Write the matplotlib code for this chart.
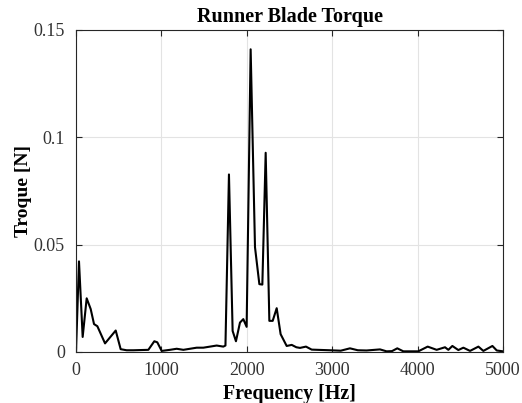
import matplotlib.pyplot as plt
import numpy as np

plt.rcParams['font.family'] = ['Liberation Serif', 'DejaVu Serif']
plt.rcParams['font.size'] = 13

# frequency [Hz] and torque amplitude
freq = [0, 35, 78, 125, 172, 211, 250, 340, 465, 523, 593, 672, 847, 917, 952,
        1003, 1100, 1179, 1257, 1335, 1413, 1491, 1569, 1647, 1725, 1750, 1791,
        1834, 1873, 1920, 1959, 1998, 2045, 2096, 2147, 2182, 2221, 2264, 2303,
        2350, 2396, 2467, 2526, 2580, 2623, 2693, 2760, 2974, 3100, 3208, 3300,
        3403, 3560, 3637, 3700, 3762, 3833, 4008, 4118, 4223, 4321, 4360, 4407,
        4477, 4536, 4614, 4712, 4770, 4876, 4927, 5000]
torque = [0.0, 0.0422, 0.007, 0.025, 0.020, 0.013, 0.012, 0.004, 0.010, 0.0013,
          0.0008, 0.0008, 0.001, 0.005, 0.0045, 0.0005, 0.001, 0.0015, 0.001,
          0.0015, 0.002, 0.002, 0.0025, 0.003, 0.0025, 0.003, 0.0827, 0.0098,
          0.005, 0.0137, 0.0153, 0.0117, 0.141, 0.0488, 0.0316, 0.0314, 0.0928,
          0.0145, 0.0145, 0.0204, 0.0083, 0.0028, 0.0033, 0.0022, 0.0019,
          0.0025, 0.0011, 0.0008, 0.0006, 0.0017, 0.0008, 0.0007, 0.0012,
          0.0003, 0.0004, 0.0017, 0.0003, 0.0003, 0.0025, 0.001, 0.0022, 0.001,
          0.0028, 0.0009, 0.002, 0.0005, 0.0025, 0.0005, 0.0028, 0.0007, 0.0003]

fig = plt.figure(figsize=(5.22, 4.03), dpi=100)
ax = fig.add_axes([0.1456, 0.1266, 0.818, 0.799])

ax.plot(freq, torque, 'k-', linewidth=1.5)
ax.set_xlim(0, 5000)
ax.set_ylim(0, 0.15)
ax.set_xticks([0, 1000, 2000, 3000, 4000, 5000])
ax.set_yticks([0, 0.05, 0.1, 0.15])
ax.set_yticklabels(['0', '0.05', '0.1', '0.15'])
ax.grid(color='#e3e3e3', linewidth=0.8)
ax.tick_params(direction='in', length=4, colors='#262626', labelcolor='#333333',
               top=True, right=True)
ax.tick_params(axis='x', pad=7)
ax.tick_params(axis='y', pad=8)
for s in ax.spines.values():
    s.set_color('#262626')
    s.set_linewidth(0.8)

ax.set_title('Runner Blade Torque', fontweight='bold', fontsize=14.5, pad=6)
ax.set_xlabel('Frequency [Hz]', fontweight='bold', fontsize=14.3, labelpad=4)
ax.set_ylabel('Troque [N]', fontweight='bold', fontsize=14, labelpad=1)

fig.savefig('out.png', dpi=100)
